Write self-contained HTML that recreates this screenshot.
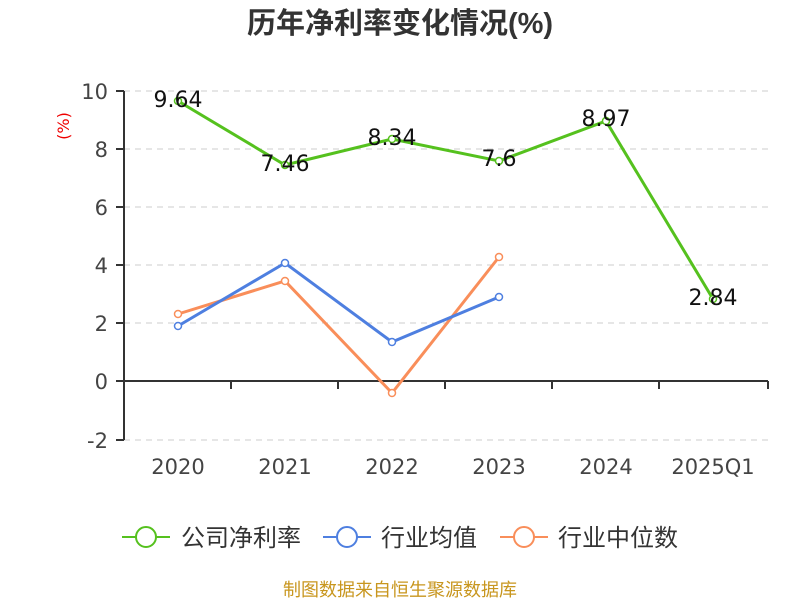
<!DOCTYPE html>
<html><head><meta charset="utf-8"><style>
body{margin:0;background:#fff;width:800px;height:600px;overflow:hidden}
svg text{font-family:"DejaVu Sans","Noto Sans CJK SC",sans-serif}
</style></head><body>
<svg width="800" height="600" xmlns="http://www.w3.org/2000/svg">
<text x="400" y="33" text-anchor="middle" font-size="29" font-weight="bold" fill="#333" style="font-family:'Liberation Sans','Noto Sans CJK SC',sans-serif">历年净利率变化情况(%)</text>
<text transform="translate(69,126) rotate(-90)" text-anchor="middle" font-size="16" fill="#e00">(%)</text>
<g stroke="#ccc" stroke-dasharray="6,5" stroke-width="1">
<line x1="124" x2="768" y1="91" y2="91"/><line x1="124" x2="768" y1="149" y2="149"/>
<line x1="124" x2="768" y1="207" y2="207"/><line x1="124" x2="768" y1="265" y2="265"/>
<line x1="124" x2="768" y1="323" y2="323"/><line x1="124" x2="768" y1="440" y2="440"/>
</g>
<g stroke="#333" stroke-width="2">
<line x1="124" x2="124" y1="91" y2="440"/>
<line x1="124" x2="768" y1="381" y2="381"/>
<line x1="116" x2="124" y1="91" y2="91"/><line x1="116" x2="124" y1="149" y2="149"/>
<line x1="116" x2="124" y1="207" y2="207"/><line x1="116" x2="124" y1="265" y2="265"/>
<line x1="116" x2="124" y1="323" y2="323"/><line x1="116" x2="124" y1="381" y2="381"/>
<line x1="116" x2="124" y1="440" y2="440"/>
<line x1="231" x2="231" y1="381" y2="389"/><line x1="338" x2="338" y1="381" y2="389"/>
<line x1="445" x2="445" y1="381" y2="389"/><line x1="552" x2="552" y1="381" y2="389"/>
<line x1="659" x2="659" y1="381" y2="389"/><line x1="768" x2="768" y1="381" y2="389"/>
</g>
<g font-size="21" fill="#444" text-anchor="end">
<text x="108" y="99">10</text><text x="108" y="157">8</text><text x="108" y="215">6</text>
<text x="108" y="273">4</text><text x="108" y="331">2</text><text x="108" y="389">0</text><text x="108" y="448">-2</text>
</g>
<g font-size="21" fill="#444" text-anchor="middle">
<text x="178" y="474">2020</text><text x="285" y="474">2021</text><text x="392" y="474">2022</text>
<text x="499" y="474">2023</text><text x="606" y="474">2024</text><text x="713" y="474">2025Q1</text>
</g>
<polyline fill="none" stroke="#f98e5a" stroke-width="3" points="178,314 285,281 392,393 499,257"/>
<polyline fill="none" stroke="#4e7fe0" stroke-width="3" points="178,326 285,263 392,342 499,297"/>
<polyline fill="none" stroke="#55c11e" stroke-width="3" points="178,101 285,165 392,139 499,161 606,121 713,299"/>
<g fill="#fff" stroke-width="1.5">
<g stroke="#f98e5a"><circle cx="178" cy="314" r="3.5"/><circle cx="285" cy="281" r="3.5"/><circle cx="392" cy="393" r="3.5"/><circle cx="499" cy="257" r="3.5"/></g>
<g stroke="#4e7fe0"><circle cx="178" cy="326" r="3.5"/><circle cx="285" cy="263" r="3.5"/><circle cx="392" cy="342" r="3.5"/><circle cx="499" cy="297" r="3.5"/></g>
<g stroke="#55c11e"><circle cx="178" cy="101" r="3.5"/><circle cx="285" cy="165" r="3.5"/><circle cx="392" cy="139" r="3.5"/><circle cx="499" cy="161" r="3.5"/><circle cx="606" cy="121" r="3.5"/><circle cx="713" cy="299" r="3.5"/></g>
</g>
<g font-size="22" fill="#111" text-anchor="middle">
<text x="178" y="107">9.64</text><text x="285" y="171">7.46</text><text x="392" y="145">8.34</text>
<text x="499" y="166">7.6</text><text x="606" y="126">8.97</text><text x="713" y="305">2.84</text>
</g>
<g stroke-width="2" fill="#fff">
<line x1="122" x2="170" y1="537" y2="537" stroke="#55c11e"/><circle cx="146" cy="537" r="10" stroke="#55c11e"/>
<line x1="323" x2="371" y1="537" y2="537" stroke="#4e7fe0"/><circle cx="347" cy="537" r="10" stroke="#4e7fe0"/>
<line x1="500" x2="548" y1="537" y2="537" stroke="#f98e5a"/><circle cx="524" cy="537" r="10" stroke="#f98e5a"/>
</g>
<g font-size="24" fill="#333">
<text x="181" y="546">公司净利率</text><text x="381" y="546">行业均值</text><text x="558" y="546">行业中位数</text>
</g>
<text x="400" y="596" text-anchor="middle" font-size="18" fill="#c8961e">制图数据来自恒生聚源数据库</text>
</svg>
</body></html>
